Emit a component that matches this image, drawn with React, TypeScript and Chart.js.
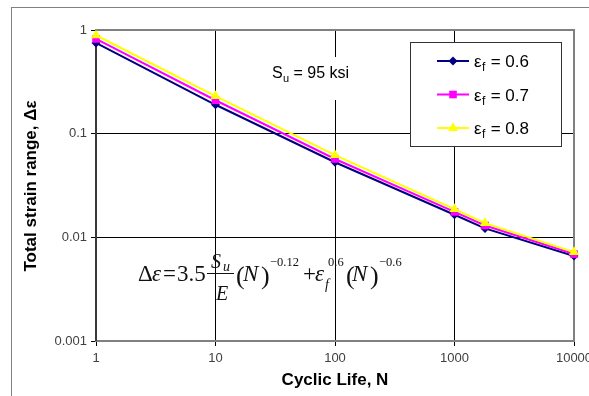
import React, { useEffect, useRef } from "react";
import { Chart, registerables } from "chart.js";

Chart.register(...registerables);

// ---- data ----
const cycles = [1, 10, 100, 1000, 1800, 10000];
const strainEf06 = [0.75, 0.19, 0.053, 0.0165, 0.0122, 0.0066];
const strainEf07 = [0.82, 0.21, 0.057, 0.0176, 0.013, 0.0069];
const strainEf08 = [0.89, 0.23, 0.062, 0.0187, 0.0137, 0.0072];
const xTickValues = [1, 10, 100, 1000, 10000];
const yTickValues = [0.001, 0.01, 0.1, 1];
const seriesNames = ["0.6", "0.7", "0.8"];
const seriesColors = ["#000080", "#FF00FF", "#FFFF00"];
const seriesMarkers = ["rectRot", "rect", "triangle"];
const xTitle = "Cyclic Life, N";
const yTitle = "Total strain range, \u0394\u03b5";

const SANS = 'Arial, "Liberation Sans", sans-serif';
const SERIF = '"Times New Roman", "Liberation Serif", serif';

function drawMarker(ctx: CanvasRenderingContext2D, style: string, x: number, y: number, color: string) {
  ctx.save();
  ctx.fillStyle = color;
  ctx.beginPath();
  if (style === "rectRot") {
    const r = 4.5;
    ctx.moveTo(x, y - r);
    ctx.lineTo(x + r, y);
    ctx.lineTo(x, y + r);
    ctx.lineTo(x - r, y);
  } else if (style === "rect") {
    const h = 3.8;
    ctx.rect(x - h, y - h, 2 * h, 2 * h);
  } else {
    const r = 5.8;
    ctx.moveTo(x, y - r);
    ctx.lineTo(x + r * 0.866, y + r * 0.5);
    ctx.lineTo(x - r * 0.866, y + r * 0.5);
  }
  ctx.closePath();
  ctx.fill();
  ctx.restore();
}

function t(ctx: CanvasRenderingContext2D, s: string, x: number, y: number, font: string) {
  ctx.font = font;
  ctx.textAlign = "left";
  ctx.textBaseline = "alphabetic";
  ctx.fillText(s, x, y);
}

const decorPlugin = {
  id: "decor",
  beforeDraw(chart: any) {
    const ctx = chart.ctx as CanvasRenderingContext2D;
    ctx.save();
    ctx.fillStyle = "#ffffff";
    ctx.fillRect(0, 0, chart.width, chart.height);
    ctx.restore();
  },
  beforeDatasetsDraw(chart: any) {
    const ctx = chart.ctx as CanvasRenderingContext2D;
    const a = chart.chartArea;
    ctx.save();
    // plot-area frame
    ctx.strokeStyle = "#808080";
    ctx.lineWidth = 2;
    ctx.strokeRect(a.left, a.top, a.right - a.left, a.bottom - a.top);
    ctx.strokeStyle = "#222";
    ctx.lineWidth = 1.5;
    ctx.beginPath();
    ctx.moveTo(a.left, a.top);
    ctx.lineTo(a.left, a.bottom);
    ctx.stroke();
    ctx.restore();
  },
  afterDraw(chart: any) {
    const ctx = chart.ctx as CanvasRenderingContext2D;
    const a = chart.chartArea;
    ctx.save();

    // outer chart frame
    ctx.strokeStyle = "#808080";
    ctx.lineWidth = 1;
    ctx.strokeRect(11.5, 7.5, 700, 500);

    // axis titles
    ctx.fillStyle = "#000";
    ctx.font = `bold 17px ${SANS}`;
    ctx.textAlign = "center";
    ctx.textBaseline = "middle";
    ctx.fillText(xTitle, (a.left + a.right) / 2, 380);
    ctx.save();
    ctx.translate(31, 186);
    ctx.rotate(-Math.PI / 2);
    ctx.fillText(yTitle, 0, 0);
    ctx.restore();

    // Su annotation with white background
    ctx.fillStyle = "#ffffff";
    ctx.fillRect(262, 57, 100, 43);
    ctx.fillStyle = "#000";
    t(ctx, "S", 272, 78, `16px ${SANS}`);
    t(ctx, "u", 283, 82, `11px ${SANS}`);
    t(ctx, " = 95 ksi", 289, 78, `16px ${SANS}`);

    // legend
    const lx = 410, ly = 42, lw = 151, lh = 104;
    ctx.fillStyle = "#ffffff";
    ctx.fillRect(lx, ly, lw, lh);
    ctx.strokeStyle = "#333";
    ctx.lineWidth = 1;
    ctx.strokeRect(lx + 0.5, ly + 0.5, lw, lh);
    seriesNames.forEach((name, i) => {
      const y = 61 + i * 33.5;
      ctx.strokeStyle = seriesColors[i];
      ctx.lineWidth = 2;
      ctx.beginPath();
      ctx.moveTo(437, y);
      ctx.lineTo(469, y);
      ctx.stroke();
      drawMarker(ctx, seriesMarkers[i], 453, y, seriesColors[i]);
      ctx.fillStyle = "#000";
      t(ctx, "\u03b5", 474, y + 6, `17px ${SANS}`);
      t(ctx, "f", 482, y + 10, `12px ${SANS}`);
      t(ctx, " = " + name, 486, y + 6, `17px ${SANS}`);
    });

    // formula
    ctx.fillStyle = "#111";
    ctx.strokeStyle = "#111";
    const B = 281;
    t(ctx, "\u0394", 138, B, `23px ${SERIF}`);
    t(ctx, "\u03b5", 152, B, `italic 23px ${SERIF}`);
    t(ctx, "=", 163, B, `23px ${SERIF}`);
    t(ctx, "3.5", 177, B, `23px ${SERIF}`);
    t(ctx, "S", 211, 268, `italic 20px ${SERIF}`);
    t(ctx, "u", 223, 271, `italic 14px ${SERIF}`);
    ctx.lineWidth = 1;
    ctx.beginPath();
    ctx.moveTo(207, 273.5);
    ctx.lineTo(234, 273.5);
    ctx.stroke();
    t(ctx, "E", 216, 300, `italic 20px ${SERIF}`);
    t(ctx, "(", 236, 284, `26px ${SERIF}`);
    t(ctx, "N", 243, B, `italic 23px ${SERIF}`);
    t(ctx, ")", 261, 284, `26px ${SERIF}`);
    t(ctx, "\u22120.12", 270, 266, `12.5px ${SERIF}`);
    t(ctx, "+", 303, B, `23px ${SERIF}`);
    t(ctx, "\u03b5", 315, B, `italic 23px ${SERIF}`);
    t(ctx, "f", 325, 289, `italic 14px ${SERIF}`);
    t(ctx, "0.6", 328, 266, `12.5px ${SERIF}`);
    t(ctx, "(", 346, 284, `26px ${SERIF}`);
    t(ctx, "N", 352, B, `italic 23px ${SERIF}`);
    t(ctx, ")", 370, 284, `26px ${SERIF}`);
    t(ctx, "\u22120.6", 379, 266, `12.5px ${SERIF}`);

    ctx.restore();
  },
};

export default function App() {
  const canvasRef = useRef<HTMLCanvasElement | null>(null);

  useEffect(() => {
    const canvas = canvasRef.current;
    if (!canvas) return;
    const seriesValues = [strainEf06, strainEf07, strainEf08];
    const datasets = seriesNames.map((name, i) => ({
      label: "\u03b5f = " + name,
      data: cycles.map((c, j) => ({ x: c, y: seriesValues[i][j] })),
      borderColor: seriesColors[i],
      backgroundColor: seriesColors[i],
      borderWidth: 2,
      pointStyle: seriesMarkers[i] as any,
      pointRadius: i === 0 ? 4.5 : i === 1 ? 5.4 : 5.8,
      pointBorderWidth: 0,
      pointBackgroundColor: seriesColors[i],
      pointBorderColor: seriesColors[i],
      tension: 0,
      clip: false as any,
      order: 2 - i,
    }));

    const tickFont = { family: SANS, size: 13 };
    const chart = new Chart(canvas, {
      type: "line",
      data: { datasets },
      plugins: [decorPlugin],
      options: {
        animation: false,
        responsive: false,
        devicePixelRatio: 1,
        events: [],
        layout: { padding: { top: 30, right: 15, bottom: 0, left: 0 } },
        plugins: { legend: { display: false }, tooltip: { enabled: false } },
        scales: {
          x: {
            type: "logarithmic",
            min: 1,
            max: 10000,
            position: "bottom",
            afterBuildTicks: (s: any) => {
              s.ticks = xTickValues.map((v) => ({ value: v }));
            },
            afterFit: (s: any) => {
              s.height = 55;
              s.paddingLeft = 0;
              s.paddingRight = 0;
            },
            ticks: {
              callback: (v: any) => String(v),
              font: tickFont,
              color: "#404040",
              padding: 5,
              maxRotation: 0,
              autoSkip: false,
            },
            grid: { color: "#000", lineWidth: 1, tickLength: 5, tickColor: "#000" },
            border: { color: "#808080", width: 2 },
          },
          y: {
            type: "logarithmic",
            min: 0.001,
            max: 1,
            position: "left",
            afterBuildTicks: (s: any) => {
              s.ticks = yTickValues.map((v) => ({ value: v }));
            },
            afterFit: (s: any) => {
              s.width = 96;
              s.paddingTop = 0;
              s.paddingBottom = 0;
            },
            ticks: {
              callback: (v: any) => String(v),
              font: tickFont,
              color: "#404040",
              padding: 4,
              autoSkip: false,
            },
            grid: { color: "#000", lineWidth: 1, tickLength: 5, tickColor: "#000" },
            border: { color: "#222", width: 1.5 },
          },
        },
      },
    });
    return () => chart.destroy();
  }, []);

  return (
    <div style={{ position: "fixed", left: 0, top: 0, width: 589, height: 396, background: "#fff" }}>
      <canvas ref={canvasRef} width={589} height={396} style={{ display: "block" }} />
    </div>
  );
}
